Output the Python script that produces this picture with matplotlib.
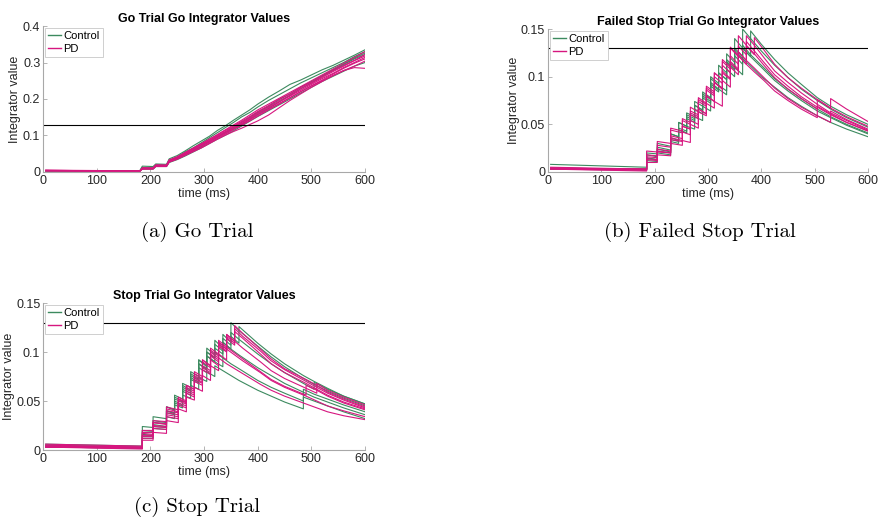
import matplotlib
matplotlib.use("Agg")
import matplotlib.pyplot as plt
from matplotlib.lines import Line2D

plt.rcParams['font.family'] = ['Liberation Sans', 'DejaVu Sans']

# ---- data ----
threshold = 0.13

# (a) Go trial
t_go = [5, 100, 180, 185, 205, 210, 230, 235, 250, 265, 280, 295, 310, 325, 340,
        355, 370, 385, 400, 420, 440, 460, 480, 500, 520, 540, 560, 580, 600]
go_control = [
    [0.004, 0.003, 0.003, 0.016, 0.015, 0.022, 0.021, 0.036, 0.045, 0.058, 0.072, 0.085, 0.098, 0.114, 0.127,
     0.142, 0.156, 0.170, 0.186, 0.205, 0.222, 0.240, 0.252, 0.266, 0.280, 0.292, 0.306, 0.320, 0.335],
    [0.003, 0.003, 0.002, 0.012, 0.011, 0.020, 0.019, 0.032, 0.041, 0.055, 0.066, 0.080, 0.094, 0.108, 0.122,
     0.136, 0.151, 0.163, 0.178, 0.196, 0.212, 0.228, 0.244, 0.258, 0.272, 0.286, 0.300, 0.316, 0.330],
    [0.003, 0.002, 0.002, 0.009, 0.009, 0.016, 0.016, 0.028, 0.036, 0.047, 0.058, 0.070, 0.083, 0.096, 0.110,
     0.122, 0.136, 0.150, 0.164, 0.180, 0.198, 0.214, 0.232, 0.248, 0.264, 0.280, 0.296, 0.312, 0.326],
    [0.004, 0.003, 0.003, 0.010, 0.010, 0.017, 0.017, 0.030, 0.037, 0.049, 0.060, 0.072, 0.084, 0.095, 0.108,
     0.118, 0.130, 0.144, 0.158, 0.174, 0.192, 0.210, 0.228, 0.244, 0.262, 0.278, 0.294, 0.310, 0.322],
    [0.003, 0.002, 0.002, 0.008, 0.008, 0.015, 0.015, 0.026, 0.034, 0.044, 0.055, 0.066, 0.078, 0.090, 0.101,
     0.113, 0.126, 0.139, 0.152, 0.168, 0.184, 0.200, 0.216, 0.232, 0.248, 0.262, 0.276, 0.290, 0.300],
]
go_pd = [
    [0.005, 0.004, 0.003, 0.011, 0.011, 0.019, 0.018, 0.032, 0.040, 0.052, 0.064, 0.076, 0.090, 0.101, 0.114,
     0.126, 0.139, 0.152, 0.166, 0.182, 0.200, 0.214, 0.232, 0.246, 0.262, 0.278, 0.292, 0.306, 0.322],
    [0.004, 0.003, 0.002, 0.009, 0.009, 0.017, 0.017, 0.029, 0.038, 0.050, 0.061, 0.073, 0.085, 0.097, 0.109,
     0.120, 0.133, 0.146, 0.160, 0.176, 0.192, 0.208, 0.224, 0.240, 0.256, 0.270, 0.286, 0.300, 0.314],
    [0.003, 0.003, 0.002, 0.010, 0.010, 0.018, 0.018, 0.031, 0.039, 0.051, 0.063, 0.075, 0.087, 0.099, 0.111,
     0.124, 0.136, 0.148, 0.162, 0.178, 0.195, 0.210, 0.228, 0.243, 0.259, 0.275, 0.290, 0.305, 0.318],
    [0.004, 0.003, 0.003, 0.008, 0.008, 0.015, 0.015, 0.027, 0.035, 0.046, 0.057, 0.068, 0.080, 0.092, 0.104,
     0.116, 0.128, 0.140, 0.153, 0.170, 0.186, 0.203, 0.220, 0.236, 0.252, 0.268, 0.284, 0.298, 0.310],
    [0.005, 0.003, 0.002, 0.009, 0.009, 0.016, 0.016, 0.028, 0.036, 0.046, 0.056, 0.066, 0.078, 0.090, 0.101,
     0.111, 0.120, 0.130, 0.140, 0.156, 0.176, 0.196, 0.214, 0.232, 0.248, 0.264, 0.278, 0.290, 0.304],
    [0.003, 0.002, 0.002, 0.011, 0.011, 0.019, 0.019, 0.033, 0.042, 0.054, 0.066, 0.078, 0.090, 0.103, 0.116,
     0.129, 0.142, 0.156, 0.170, 0.186, 0.202, 0.218, 0.234, 0.250, 0.266, 0.282, 0.298, 0.314, 0.330],
    [0.004, 0.003, 0.002, 0.010, 0.010, 0.017, 0.017, 0.030, 0.038, 0.049, 0.060, 0.072, 0.083, 0.095, 0.106,
     0.118, 0.131, 0.143, 0.156, 0.172, 0.188, 0.204, 0.220, 0.236, 0.250, 0.264, 0.278, 0.286, 0.284],
]

# (b) Failed stop trial -- repeated times are the before/after values of a jump
t_fs_control = [5, 185, 185, 205, 205, 230, 230, 245, 245, 260, 260, 275, 275, 290, 290,
                305, 305, 320, 320, 335, 335, 350, 350, 365, 365, 380, 380,
                400, 425, 450, 475, 505, 505, 530, 530, 560, 600]
t_fs_pd = [5, 185, 185, 205, 205, 230, 230, 252, 252, 267, 267, 282, 282, 297, 297,
           312, 312, 327, 327, 342, 342, 357, 357, 372, 372, 387, 387,
           405, 425, 450, 475, 505, 505, 530, 530, 560, 600]
fs_control = [
    [0.008, 0.005, 0.018, 0.016, 0.026, 0.023, 0.040, 0.037, 0.052, 0.048, 0.048, 0.045, 0.070, 0.065, 0.082,
     0.076, 0.098, 0.091, 0.091, 0.085, 0.115, 0.107, 0.130, 0.121, 0.150, 0.140, 0.140,
     0.127, 0.112, 0.099, 0.087, 0.075, 0.075, 0.066, 0.066, 0.057, 0.047],
    [0.004, 0.003, 0.014, 0.013, 0.022, 0.020, 0.034, 0.032, 0.044, 0.041, 0.058, 0.054, 0.066, 0.061, 0.080,
     0.074, 0.092, 0.086, 0.104, 0.097, 0.118, 0.110, 0.110, 0.102, 0.130, 0.121, 0.148,
     0.134, 0.118, 0.104, 0.092, 0.078, 0.078, 0.069, 0.069, 0.060, 0.050],
    [0.003, 0.003, 0.015, 0.013, 0.024, 0.021, 0.036, 0.033, 0.046, 0.043, 0.060, 0.056, 0.074, 0.069, 0.069,
     0.064, 0.090, 0.084, 0.104, 0.097, 0.116, 0.108, 0.128, 0.119, 0.119, 0.111, 0.111,
     0.100, 0.089, 0.078, 0.069, 0.059, 0.059, 0.052, 0.052, 0.045, 0.037],
    [0.004, 0.003, 0.020, 0.019, 0.030, 0.027, 0.040, 0.037, 0.052, 0.048, 0.062, 0.058, 0.058, 0.054, 0.078,
     0.072, 0.094, 0.087, 0.087, 0.081, 0.108, 0.100, 0.122, 0.113, 0.133, 0.123, 0.123,
     0.112, 0.098, 0.087, 0.077, 0.066, 0.066, 0.058, 0.058, 0.050, 0.041],
    [0.003, 0.002, 0.012, 0.011, 0.020, 0.018, 0.032, 0.030, 0.044, 0.041, 0.056, 0.052, 0.070, 0.065, 0.084,
     0.078, 0.100, 0.093, 0.112, 0.104, 0.124, 0.115, 0.140, 0.130, 0.130, 0.121, 0.121,
     0.110, 0.096, 0.085, 0.075, 0.064, 0.064, 0.057, 0.057, 0.049, 0.040],
]
fs_pd = [
    [0.004, 0.002, 0.016, 0.015, 0.024, 0.022, 0.038, 0.035, 0.048, 0.045, 0.062, 0.058, 0.076, 0.071, 0.088,
     0.082, 0.104, 0.097, 0.118, 0.110, 0.130, 0.121, 0.143, 0.133, 0.133, 0.124, 0.124,
     0.112, 0.099, 0.087, 0.077, 0.066, 0.076, 0.067, 0.067, 0.058, 0.048],
    [0.004, 0.003, 0.014, 0.013, 0.022, 0.020, 0.036, 0.033, 0.033, 0.031, 0.050, 0.046, 0.066, 0.061, 0.080,
     0.074, 0.074, 0.069, 0.096, 0.089, 0.110, 0.102, 0.122, 0.113, 0.132, 0.123, 0.141,
     0.128, 0.113, 0.099, 0.088, 0.076, 0.076, 0.067, 0.077, 0.066, 0.053],
    [0.003, 0.002, 0.018, 0.017, 0.028, 0.026, 0.044, 0.041, 0.054, 0.050, 0.064, 0.060, 0.078, 0.072, 0.072,
     0.067, 0.094, 0.087, 0.106, 0.098, 0.116, 0.108, 0.126, 0.117, 0.137, 0.127, 0.127,
     0.115, 0.102, 0.090, 0.079, 0.068, 0.068, 0.060, 0.060, 0.052, 0.043],
    [0.004, 0.003, 0.013, 0.012, 0.021, 0.020, 0.034, 0.032, 0.048, 0.045, 0.060, 0.056, 0.074, 0.069, 0.090,
     0.084, 0.104, 0.097, 0.116, 0.108, 0.131, 0.122, 0.122, 0.113, 0.113, 0.105, 0.105,
     0.096, 0.085, 0.075, 0.066, 0.057, 0.069, 0.061, 0.061, 0.052, 0.043],
    [0.005, 0.003, 0.022, 0.021, 0.032, 0.030, 0.046, 0.043, 0.056, 0.052, 0.068, 0.063, 0.063, 0.059, 0.086,
     0.080, 0.100, 0.093, 0.112, 0.104, 0.122, 0.113, 0.132, 0.123, 0.143, 0.133, 0.133,
     0.120, 0.106, 0.094, 0.083, 0.071, 0.071, 0.062, 0.062, 0.054, 0.044],
    [0.003, 0.001, 0.010, 0.010, 0.018, 0.017, 0.030, 0.028, 0.042, 0.039, 0.054, 0.050, 0.066, 0.061, 0.080,
     0.074, 0.094, 0.087, 0.104, 0.097, 0.114, 0.106, 0.126, 0.117, 0.117, 0.109, 0.109,
     0.099, 0.088, 0.077, 0.068, 0.059, 0.059, 0.052, 0.064, 0.055, 0.045],
]

# (c) Stop trial
t_st_control = [5, 185, 185, 205, 205, 230, 230, 245, 245, 260, 260, 275, 275, 290, 290,
                305, 305, 320, 320, 335, 335, 350, 350, 365, 365,
                400, 425, 450, 485, 485, 505, 505, 530, 560, 600]
t_st_pd = [5, 185, 185, 205, 205, 230, 230, 252, 252, 267, 267, 282, 282, 297, 297,
           312, 312, 327, 327, 342, 342, 357, 357, 372, 372,
           405, 425, 450, 490, 490, 510, 510, 530, 560, 600]
st_control = [
    [0.006, 0.004, 0.020, 0.019, 0.030, 0.028, 0.044, 0.041, 0.054, 0.050, 0.066, 0.061, 0.078, 0.072, 0.092,
     0.085, 0.104, 0.097, 0.112, 0.104, 0.118, 0.110, 0.130, 0.122, 0.122,
     0.106, 0.095, 0.085, 0.073, 0.073, 0.067, 0.067, 0.060, 0.053, 0.045],
    [0.003, 0.002, 0.012, 0.012, 0.022, 0.021, 0.034, 0.032, 0.046, 0.043, 0.056, 0.053, 0.066, 0.062, 0.074,
     0.070, 0.080, 0.075, 0.086, 0.081, 0.081, 0.076, 0.076, 0.071, 0.071,
     0.061, 0.055, 0.049, 0.042, 0.054, 0.050, 0.050, 0.045, 0.039, 0.032],
    [0.005, 0.003, 0.016, 0.015, 0.026, 0.024, 0.040, 0.037, 0.050, 0.046, 0.062, 0.058, 0.074, 0.069, 0.088,
     0.082, 0.100, 0.094, 0.108, 0.101, 0.114, 0.107, 0.120, 0.113, 0.113,
     0.098, 0.088, 0.079, 0.068, 0.068, 0.062, 0.069, 0.062, 0.055, 0.047],
    [0.004, 0.002, 0.024, 0.023, 0.034, 0.032, 0.044, 0.041, 0.056, 0.052, 0.068, 0.064, 0.080, 0.075, 0.092,
     0.086, 0.100, 0.094, 0.104, 0.098, 0.110, 0.103, 0.103, 0.097, 0.097,
     0.084, 0.076, 0.068, 0.059, 0.059, 0.054, 0.054, 0.049, 0.043, 0.036],
    [0.003, 0.002, 0.014, 0.014, 0.024, 0.023, 0.038, 0.036, 0.048, 0.045, 0.060, 0.056, 0.072, 0.068, 0.084,
     0.079, 0.096, 0.090, 0.090, 0.085, 0.110, 0.103, 0.116, 0.109, 0.126,
     0.109, 0.098, 0.088, 0.076, 0.076, 0.070, 0.070, 0.063, 0.055, 0.047],
    [0.004, 0.002, 0.018, 0.018, 0.028, 0.027, 0.040, 0.038, 0.052, 0.049, 0.064, 0.060, 0.076, 0.071, 0.088,
     0.083, 0.096, 0.090, 0.100, 0.094, 0.094, 0.088, 0.088, 0.083, 0.083,
     0.071, 0.064, 0.058, 0.050, 0.062, 0.057, 0.057, 0.052, 0.046, 0.039],
]
st_pd = [
    [0.006, 0.004, 0.017, 0.016, 0.028, 0.026, 0.042, 0.039, 0.052, 0.048, 0.064, 0.060, 0.076, 0.071, 0.090,
     0.084, 0.100, 0.094, 0.110, 0.103, 0.116, 0.109, 0.124, 0.116, 0.116,
     0.101, 0.091, 0.082, 0.070, 0.070, 0.064, 0.064, 0.058, 0.051, 0.043],
    [0.003, 0.002, 0.015, 0.015, 0.025, 0.024, 0.038, 0.036, 0.050, 0.047, 0.062, 0.058, 0.074, 0.069, 0.086,
     0.081, 0.098, 0.092, 0.106, 0.100, 0.118, 0.111, 0.111, 0.104, 0.104,
     0.090, 0.081, 0.073, 0.063, 0.063, 0.058, 0.068, 0.061, 0.054, 0.046],
    [0.004, 0.002, 0.012, 0.012, 0.022, 0.021, 0.034, 0.032, 0.046, 0.043, 0.058, 0.054, 0.072, 0.068, 0.084,
     0.079, 0.096, 0.090, 0.110, 0.103, 0.103, 0.097, 0.097, 0.091, 0.091,
     0.079, 0.071, 0.064, 0.055, 0.055, 0.050, 0.050, 0.045, 0.040, 0.034],
    [0.005, 0.003, 0.020, 0.020, 0.030, 0.029, 0.044, 0.041, 0.054, 0.050, 0.066, 0.062, 0.080, 0.075, 0.092,
     0.086, 0.102, 0.096, 0.108, 0.101, 0.114, 0.107, 0.121, 0.114, 0.114,
     0.098, 0.088, 0.079, 0.068, 0.068, 0.062, 0.062, 0.056, 0.049, 0.042],
    [0.003, 0.002, 0.014, 0.014, 0.024, 0.023, 0.036, 0.034, 0.048, 0.045, 0.060, 0.056, 0.070, 0.066, 0.082,
     0.077, 0.092, 0.086, 0.098, 0.092, 0.105, 0.099, 0.099, 0.093, 0.093,
     0.080, 0.072, 0.065, 0.056, 0.066, 0.061, 0.061, 0.055, 0.048, 0.041],
    [0.004, 0.003, 0.018, 0.018, 0.028, 0.027, 0.040, 0.038, 0.052, 0.049, 0.066, 0.062, 0.078, 0.073, 0.092,
     0.086, 0.104, 0.098, 0.112, 0.105, 0.118, 0.111, 0.127, 0.119, 0.119,
     0.103, 0.093, 0.083, 0.072, 0.072, 0.066, 0.066, 0.059, 0.052, 0.044],
    [0.003, 0.001, 0.010, 0.010, 0.018, 0.017, 0.030, 0.028, 0.042, 0.039, 0.054, 0.051, 0.064, 0.060, 0.076,
     0.071, 0.086, 0.081, 0.094, 0.088, 0.088, 0.083, 0.083, 0.078, 0.078,
     0.067, 0.061, 0.055, 0.047, 0.047, 0.043, 0.043, 0.039, 0.035, 0.031],
]

GREEN = '#3c8a5f'
PINK = '#d6167f'
SPINE = '#a8a8a8'
TXT = '#262626'


def draw_panel(ax, t_c, control, t_p, pd, ylim, yticks, yticklabels, title):
    for v in control:
        ax.plot(t_c, v, color=GREEN, lw=0.8)
    for v in pd:
        ax.plot(t_p, v, color=PINK, lw=0.8)
    ax.axhline(threshold, color='black', lw=0.8)
    ax.set_xlim(0, 600)
    ax.set_ylim(*ylim)
    ax.set_xticks([0, 100, 200, 300, 400, 500, 600])
    ax.set_yticks(yticks)
    ax.set_yticklabels(yticklabels)
    ax.set_xlabel('time (ms)', fontsize=9, color=TXT, labelpad=1)
    ax.set_ylabel('Integrator value', fontsize=9, color=TXT, labelpad=1)
    ax.set_title(title, fontsize=9, fontweight='bold', pad=3)
    for s in ['top', 'right']:
        ax.spines[s].set_visible(False)
    for s in ['left', 'bottom']:
        ax.spines[s].set_color(SPINE)
        ax.spines[s].set_linewidth(0.8)
    ax.tick_params(direction='in', length=3, width=0.6, color=SPINE,
                   labelsize=9, labelcolor=TXT, pad=2)
    handles = [Line2D([], [], color=GREEN, lw=1), Line2D([], [], color=PINK, lw=1)]
    leg = ax.legend(handles, ['Control', 'PD'], loc='upper left', fontsize=8,
                    handlelength=1.2, handletextpad=0.2, borderpad=0.25,
                    labelspacing=0.25, borderaxespad=0.2, fancybox=False,
                    framealpha=1)
    leg.get_frame().set_edgecolor('#c8c8c8')
    leg.get_frame().set_linewidth(0.6)


fig = plt.figure(figsize=(8.8, 5.19), dpi=100)

ax_a = fig.add_axes([0.0489, 0.6686, 0.366, 0.2813])
draw_panel(ax_a, t_go, go_control, t_go, go_pd, (0, 0.4), [0, 0.1, 0.2, 0.3, 0.4],
           ['0', '0.1', '0.2', '0.3', '0.4'], 'Go Trial Go Integrator Values')

ax_b = fig.add_axes([0.6227, 0.6686, 0.3636, 0.2755])
draw_panel(ax_b, t_fs_control, fs_control, t_fs_pd, fs_pd, (0, 0.15), [0, 0.05, 0.1, 0.15],
           ['0', '0.05', '0.1', '0.15'], 'Failed Stop Trial Go Integrator Values')

ax_c = fig.add_axes([0.0489, 0.1329, 0.366, 0.2832])
draw_panel(ax_c, t_st_control, st_control, t_st_pd, st_pd, (0, 0.15), [0, 0.05, 0.1, 0.15],
           ['0', '0.05', '0.1', '0.15'], 'Stop Trial Go Integrator Values')

cap = dict(fontsize=15, family=['cmr10', 'DejaVu Serif'], ha='center', va='center', color='black')
fig.text(0.224, 0.553, '(a) Go Trial', **cap)
fig.text(0.795, 0.553, '(b) Failed Stop Trial', **cap)
fig.text(0.224, 0.023, '(c) Stop Trial', **cap)

fig.savefig('out.png', dpi=100)
